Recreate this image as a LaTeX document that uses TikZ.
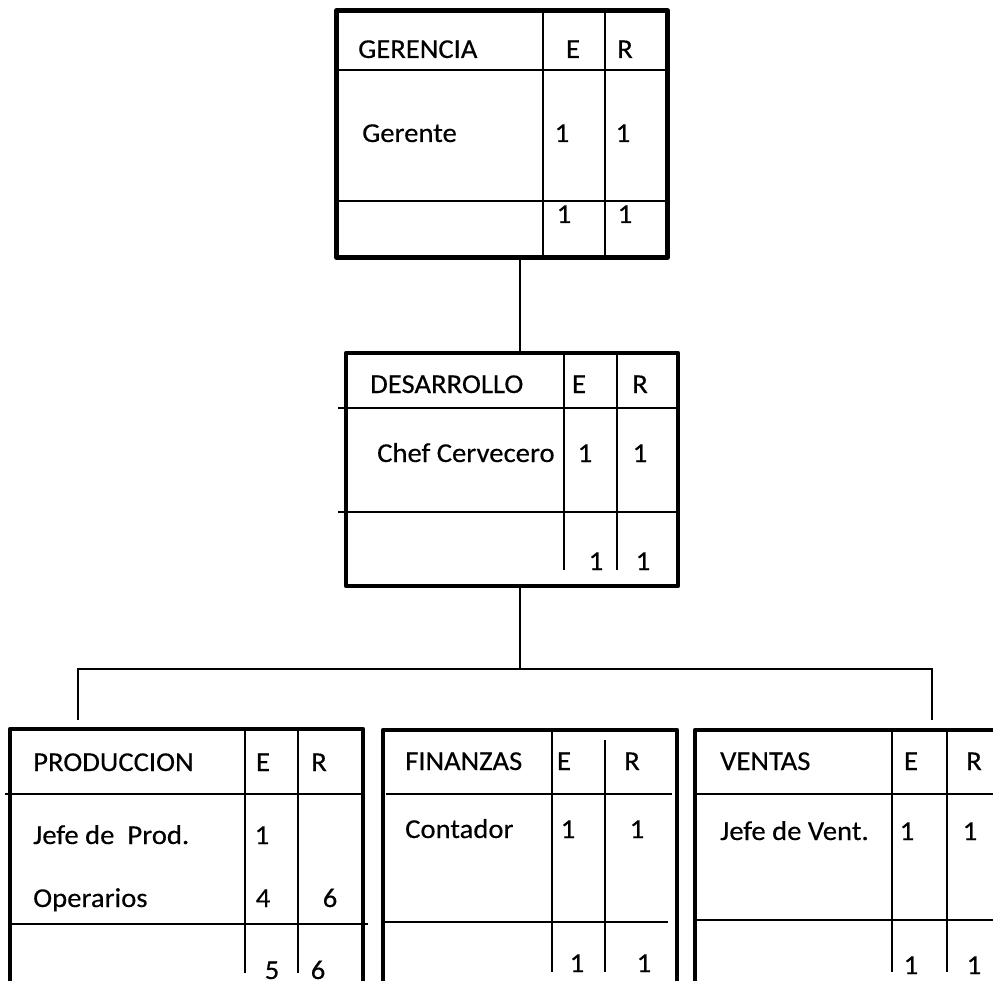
\documentclass[tikz,border=0pt]{standalone}
\usepackage{fontspec}
\setmainfont{Carlito}[FakeStretch=1.05, FakeBold=0.35]
\begin{document}
\begin{tikzpicture}[x=1pt, y=-1pt,
  thickbox/.style={draw, line width=4.5pt, line join=round, inner sep=0pt, outer sep=0pt},
  rule/.style={line width=2pt},
  bus/.style={line width=1.7pt},
  lbl/.style={inner sep=0pt, font=\fontsize{27.3pt}{30pt}\selectfont},
  txt/.style={lbl, anchor=base west},
  num/.style={lbl, anchor=base}]
\useasboundingbox (0,0) rectangle (993,981);
\clip (0,0) rectangle (993,981);

% ---------- GERENCIA ----------
\node[thickbox, minimum width=331pt, minimum height=247pt] (ger) at (502,134) {};
\draw[rule] (543,10) -- (543,258) (605,10) -- (605,258);
\draw[rule] (336,70) -- (668,70) (336,201) -- (668,201);
\node[txt] (gh) at (358,58) {GERENCIA};
\node[num] (ge) at (573,58) {E};
\node[num] (gr) at (625,58) {R};
\node[txt] (g1) at (362,142) {Gerente};
\node[num] (g1e) at (562,142) {1};
\node[num] (g1r) at (623,142) {1};
\node[num] (gte) at (564,223) {1};
\node[num] (gtr) at (625,223) {1};

% ---------- DESARROLLO ----------
\node[thickbox, minimum width=332pt, minimum height=233pt] (des) at (512,469.5) {};
\draw[rule] (564,353) -- (564,570) (617,353) -- (617,570);
\draw[rule] (338,408) -- (678,408) (338,512) -- (678,512);
\node[txt] (dh) at (370,393) {DESARROLLO};
\node[num] (de) at (579,393) {E};
\node[num] (dr) at (640,393) {R};
\node[txt] (d1) at (377,462) {Chef Cervecero};
\node[num] (d1e) at (585,462) {1};
\node[num] (d1r) at (640,462) {1};
\node[num] (dte) at (596,570) {1};
\node[num] (dtr) at (643,570) {1};

% ---------- PRODUCCION ----------
\node[thickbox, minimum width=353pt, minimum height=266pt] (prod) at (186.5,862) {};
\draw[rule] (245,729) -- (245,973) (298,729) -- (298,973);
\draw[rule] (5,794) -- (363,794) (12,924) -- (368,924);
\node[txt] (ph) at (33,771) {PRODUCCION};
\node[num] (pe) at (263,771) {E};
\node[num] (pr) at (319,771) {R};
\node[txt] (p1) at (33,844) {Jefe de\ \ Prod.};
\node[num] (p1e) at (262,844) {1};
\node[txt] (p2) at (33,907) {Operarios};
\node[num] (p2e) at (263,907) {4};
\node[num] (p2r) at (330,907) {6};
\node[num] (pte) at (272,979) {5};
\node[num] (ptr) at (318,979) {6};

% ---------- FINANZAS ----------
\node[thickbox, minimum width=294pt, minimum height=265pt] (fin) at (530,862.5) {};
\draw[rule] (552,730) -- (552,972) (605,740) -- (605,972);
\draw[rule] (386,794) -- (672,794) (385,922) -- (668,922);
\node[txt] (fh) at (405,770) {FINANZAS};
\node[num] (fe) at (564,770) {E};
\node[num] (fr) at (632,770) {R};
\node[txt] (f1) at (405,838) {Contador};
\node[num] (f1e) at (568,838) {1};
\node[num] (f1r) at (637,838) {1};
\node[num] (fte) at (577,972) {1};
\node[num] (ftr) at (644,972) {1};

% ---------- VENTAS ----------
\node[thickbox, minimum width=310pt, minimum height=265pt] (ven) at (850,862.5) {};
\draw[rule] (892,730) -- (892,972) (947,730) -- (947,972);
\draw[rule] (695,794) -- (1000,794) (695,920) -- (1000,920);
\node[txt] (vh) at (720,770) {VENTAS};
\node[num] (ve) at (911,770) {E};
\node[num] (vr) at (974,770) {R};
\node[txt] (v1) at (720,840) {Jefe de Vent.};
\node[num] (v1e) at (907,840) {1};
\node[num] (v1r) at (970,840) {1};
\node[num] (vte) at (911,974) {1};
\node[num] (vtr) at (974,974) {1};

% ---------- connectors ----------
\coordinate (busc) at (520,669);
\coordinate (dropL) at (78,720);
\coordinate (dropR) at (932,720);
\draw[bus] (busc |- ger.south) -- (busc |- des.north);
\draw[bus] (busc |- des.south) -- (busc);
\draw[bus] (dropL) -- (dropL |- busc) -- (dropR |- busc) -- (dropR);
\end{tikzpicture}
\end{document}
